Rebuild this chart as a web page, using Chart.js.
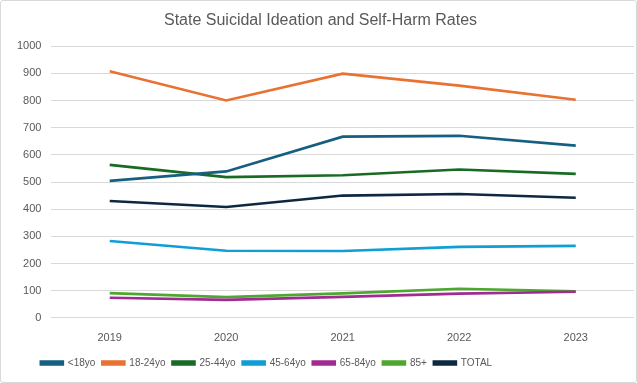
<!DOCTYPE html>
<html>
<head>
<meta charset="utf-8">
<script src="https://cdn.jsdelivr.net/npm/chart.js@4/dist/chart.umd.min.js"></script>
<style>
  html, body { margin: 0; padding: 0; background: #fff; }
  #wrap { position: relative; width: 635px; height: 381px; border: 1px solid #d9d9d9; border-radius: 3px; }
</style>
</head>
<body>
<div id="wrap"><canvas id="rateChart"></canvas></div>
<script>
// State suicidal ideation / self-harm rates by age group
const years = ['2019', '2020', '2021', '2022', '2023'];
const under18 = [504, 539, 667, 670, 634];
const age18to24 = [908, 800, 899, 855, 803];
const age25to44 = [563, 518, 525, 546, 530];
const age45to64 = [283, 247, 246, 261, 265];
const age65to84 = [74, 66, 77, 89, 96];
const age85plus = [91, 76, 90, 107, 98];
const total = [430, 408, 450, 456, 442];
const yTicks = [0, 100, 200, 300, 400, 500, 600, 700, 800, 900, 1000];

const FONT = 'Liberation Sans, Arial, sans-serif';

function series(label, data, color) {
    return {
        label: label,
        data: data,
        borderColor: color,
        backgroundColor: color,
        borderWidth: 2.6,
        pointRadius: 0,
        tension: 0
    };
}

// excel puts the legend a bit left of centre
const legendShift = {
    id: 'legendShift',
    afterLayout(chart) {
        chart.legend.left -= 54;
        chart.legend.right -= 54;
    }
};

const ctx = document.getElementById('rateChart').getContext('2d');
new Chart(ctx, {
    type: 'line',
    data: {
        labels: years,
        datasets: [
            series('<18yo', under18, '#156082'),
            series('18-24yo', age18to24, '#E97132'),
            series('25-44yo', age25to44, '#196B24'),
            series('45-64yo', age45to64, '#0F9ED5'),
            series('65-84yo', age65to84, '#A02B93'),
            series('85+', age85plus, '#4EA72E'),
            series('TOTAL', total, '#0E2841')
        ]
    },
    plugins: [legendShift],
    options: {
        responsive: true,
        maintainAspectRatio: false,
        animation: false,
        layout: { padding: { left: 6, right: 2, top: 10, bottom: 4 } },
        plugins: {
            title: {
                display: true,
                text: 'State Suicidal Ideation and Self-Harm Rates',
                color: '#595959',
                font: { family: FONT, size: 16, weight: 'normal' },
                padding: { top: 0, bottom: 16 }
            },
            legend: {
                position: 'bottom',
                labels: {
                    color: '#595959',
                    font: { family: FONT, size: 10 },
                    boxWidth: 22,
                    boxHeight: 3,
                    padding: 7
                }
            },
            tooltip: { enabled: false }
        },
        scales: {
            x: {
                offset: true,
                grid: { display: false },
                border: { display: false },
                ticks: {
                    color: '#595959',
                    font: { family: FONT, size: 11 },
                    padding: 6
                }
            },
            y: {
                min: 0,
                max: 1000,
                afterBuildTicks: axis => { axis.ticks = yTicks.map(v => ({ value: v })); },
                grid: { color: '#d9d9d9', lineWidth: 1, drawTicks: false },
                border: { display: false },
                ticks: {
                    color: '#595959',
                    font: { family: FONT, size: 11 },
                    padding: 10,
                    callback: v => String(v)
                }
            }
        }
    }
});
</script>
</body>
</html>
